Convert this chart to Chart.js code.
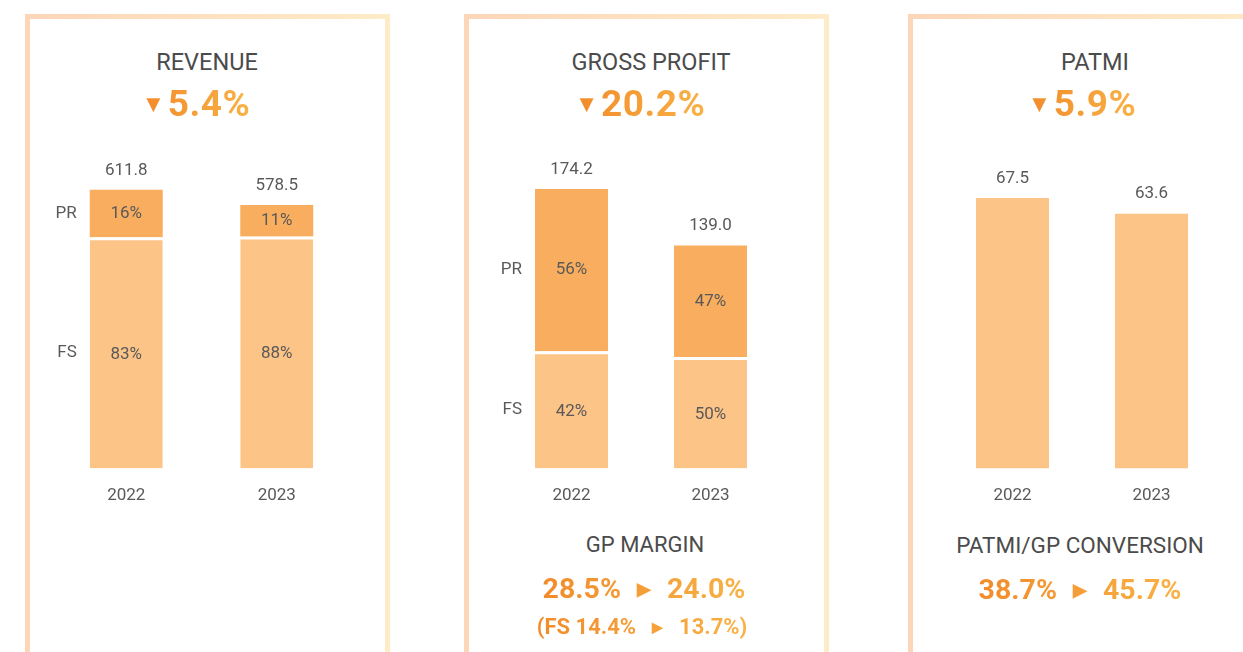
<!DOCTYPE html>
<html>
<head>
<meta charset="utf-8">
<script src="https://cdn.jsdelivr.net/npm/chart.js@4.4.1/dist/chart.umd.min.js"></script>
<style>
  html, body { margin: 0; padding: 0; background: #fff; width: 1243px; height: 652px; overflow: hidden; }
  body { position: relative; font-family: Roboto, "Noto Sans", sans-serif; }
  .panel { position: absolute; top: 14px; width: 365px; height: 700px; box-sizing: border-box;
           border: 5px solid; border-image: linear-gradient(to right, #fdd6ba, #feebc8) 1; }
  .txt { position: absolute; width: 400px; text-align: center; white-space: nowrap; }
  .title { font-size: 23.5px; color: #4b4b4b; line-height: 28px; }
  .chg { font-size: 37px; font-weight: 700; line-height: 42px; letter-spacing: 0.5px; }
  .grad { display: inline-block; background: linear-gradient(90deg, #f28b2b, #f8b246);
          -webkit-background-clip: text; background-clip: text; color: transparent; }
  .down { font-size: 24px; vertical-align: 4px; margin-right: 2px; }
  .big { font-size: 28.5px; font-weight: 700; line-height: 34px; }
  .small { font-size: 22px; font-weight: 700; line-height: 28px; }
  .arr { font-size: 0.62em; vertical-align: 0.18em; margin: 0 16px; }
  .chart { position: absolute; top: 130px; height: 393px; }
</style>
</head>
<body>
<div class="panel" style="left:25px"></div>
<div class="panel" style="left:464px"></div>
<div class="panel" style="left:908px"></div>

<div class="txt title" style="left:7px; top:48px">REVENUE</div>
<div class="txt title" style="left:451px; top:48px">GROSS PROFIT</div>
<div class="txt title" style="left:895px; top:48px">PATMI</div>

<div class="txt chg" style="left:-4px; top:83px"><span class="grad"><span class="down">▼</span>5.4%</span></div>
<div class="txt chg" style="left:440px; top:83px"><span class="grad"><span class="down">▼</span>20.2%</span></div>
<div class="txt chg" style="left:882px; top:83px"><span class="grad"><span class="down">▼</span>5.9%</span></div>

<div class="txt title" style="left:445px; top:531px; font-size:22px">GP MARGIN</div>
<div class="txt big" style="left:444px; top:572px"><span class="grad">28.5%<span class="arr">▶</span>24.0%</span></div>
<div class="txt small" style="left:442px; top:613px"><span class="grad">(FS 14.4%<span class="arr">▶</span>13.7%)</span></div>

<div class="txt title" style="left:880px; top:531px; font-size:22.5px">PATMI/GP CONVERSION</div>
<div class="txt big" style="left:880px; top:573px"><span class="grad">38.7%<span class="arr">▶</span>45.7%</span></div>

<div class="chart" style="left:11px; width:381px"><canvas id="revenue"></canvas></div>
<div class="chart" style="left:462px; width:358px"><canvas id="gross"></canvas></div>
<div class="chart" style="left:903px; width:358px"><canvas id="patmi"></canvas></div>

<script>
// Datos
const years = ['2022', '2023'];

const revenueTotal = [611.8, 578.5];
const revenueShareFS = [83, 88];
const revenueSharePR = [16, 11];

const grossTotal = [174.2, 139.0];
const grossShareFS = [42, 50];
const grossSharePR = [56, 47];

const patmiTotal = [67.5, 63.6];

const colorFS = '#fcc486';
const colorPR = '#f9ae5f';
const textGray = '#595959';

// Etiquetas: totales arriba, % dentro de cada segmento, nombre del segmento a la izquierda
function makeLabels(totals) {
    return {
        id: 'barLabels',
        afterDatasetsDraw(chart) {
            const ctx = chart.ctx;
            ctx.save();
            ctx.font = '17px Roboto';
            ctx.fillStyle = textGray;
            ctx.textBaseline = 'middle';
            chart.data.datasets.forEach((ds, di) => {
                const meta = chart.getDatasetMeta(di);
                meta.data.forEach((bar, i) => {
                    const midY = (bar.y + bar.base) / 2;
                    if (ds.shares) {
                        ctx.textAlign = 'center';
                        ctx.fillText(ds.shares[i] + '%', bar.x, midY + (ds.borderWidth.top || 0) / 2);
                    }
                    if (ds.sideLabel && i === 0) {
                        ctx.textAlign = 'right';
                        ctx.fillText(ds.sideLabel, bar.x - bar.width / 2 - 13, midY);
                    }
                });
            });
            const last = chart.getDatasetMeta(chart.data.datasets.length - 1);
            ctx.textAlign = 'center';
            ctx.textBaseline = 'bottom';
            last.data.forEach((bar, i) => {
                ctx.fillText(totals[i].toFixed(1), bar.x, bar.y - 11);
            });
            ctx.restore();
        }
    };
}

function opciones(maxY, catPct) {
    return {
        responsive: true,
        maintainAspectRatio: false,
        animation: false,
        layout: { padding: { left: 40, right: 40, top: 0, bottom: 0 } },
        plugins: { legend: { display: false }, tooltip: { enabled: false } },
        datasets: { bar: { barPercentage: 1, categoryPercentage: catPct } },
        scales: {
            x: {
                stacked: true,
                grid: { display: false, drawTicks: false },
                border: { display: false },
                ticks: { color: textGray, font: { family: 'Roboto', size: 17 }, padding: 17 }
            },
            y: {
                stacked: true,
                display: false,
                min: 0,
                max: maxY
            }
        }
    };
}

function stackedData(totals, sharesFS, sharesPR) {
    const fs = totals.map((t, i) => t * sharesFS[i] / 100);
    const pr = totals.map((t, i) => t - fs[i]);
    return {
        labels: years,
        datasets: [
            { label: 'FS', data: fs, shares: sharesFS, sideLabel: 'FS', backgroundColor: colorFS,
              borderColor: '#ffffff', borderWidth: { top: 3, left: 0, right: 0, bottom: 0 }, borderSkipped: false },
            { label: 'PR', data: pr, shares: sharesPR, sideLabel: 'PR', backgroundColor: colorPR,
              borderWidth: { top: 0, left: 0, right: 0, bottom: 0 } }
        ]
    };
}

new Chart(document.getElementById('revenue'), {
    type: 'bar',
    data: stackedData(revenueTotal, revenueShareFS, revenueSharePR),
    options: opciones(743, 0.485),
    plugins: [makeLabels(revenueTotal)]
});

new Chart(document.getElementById('gross'), {
    type: 'bar',
    data: stackedData(grossTotal, grossShareFS, grossSharePR),
    options: opciones(211, 0.525),
    plugins: [makeLabels(grossTotal)]
});

new Chart(document.getElementById('patmi'), {
    type: 'bar',
    data: {
        labels: years,
        datasets: [{ label: 'PATMI', data: patmiTotal, backgroundColor: colorFS, borderWidth: { top: 0 } }]
    },
    options: opciones(84.5, 0.525),
    plugins: [makeLabels(patmiTotal)]
});
</script>
</body>
</html>
